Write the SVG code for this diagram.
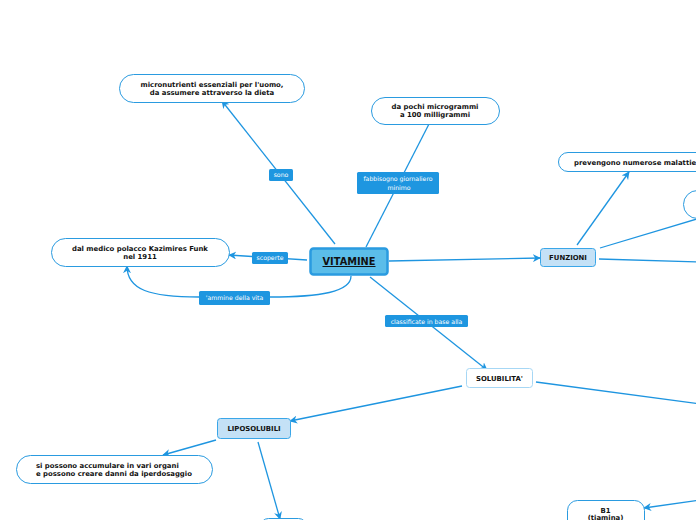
<svg xmlns="http://www.w3.org/2000/svg" width="696" height="520" viewBox="0 0 696 520">
<defs>
<marker id="ar" viewBox="0 0 10 10" refX="9" refY="5" markerWidth="8" markerHeight="8" markerUnits="userSpaceOnUse" orient="auto">
<path d="M0,0 L10,5 L0,10 L3,5 z" fill="#1e95e0"/>
</marker>
<style>
.c{fill:none;stroke:#1e95e0;stroke-width:1.3}
.n{fill:#fff;stroke:#2a9be0;stroke-width:1}
.t{font-family:"DejaVu Sans",Verdana,sans-serif;font-weight:bold;font-size:6.9px;fill:#111;text-anchor:middle}
.lb{fill:#1e96e0}
.lt{font-family:"DejaVu Sans",Verdana,sans-serif;font-size:6.2px;fill:#fff;text-anchor:middle}
.sub{fill:#c4e1f6;stroke:#3aa6e8;stroke-width:1}
</style>
</defs>
<rect width="696" height="520" fill="#fff"/>
<g id="connectors">
<line class="c" x1="335" y1="244" x2="222" y2="101" marker-end="url(#ar)"/>
<line class="c" x1="366" y1="247" x2="429" y2="124"/>
<line class="c" x1="307" y1="260" x2="229" y2="255" marker-end="url(#ar)"/>
<path class="c" d="M351,276 C351,292 320,297 270,297 L199,297 C150,297 127,290 127,266" marker-end="url(#ar)"/>
<line class="c" x1="389" y1="261" x2="540" y2="258" marker-end="url(#ar)"/>
<line class="c" x1="370" y1="277" x2="487" y2="370" marker-end="url(#ar)"/>
<line class="c" x1="577" y1="245" x2="629" y2="172" marker-end="url(#ar)"/>
<line class="c" x1="600" y1="248" x2="700" y2="218"/>
<line class="c" x1="599" y1="259" x2="700" y2="262"/>
<line class="c" x1="536" y1="382" x2="700" y2="404"/>
<line class="c" x1="462" y1="386" x2="290" y2="421" marker-end="url(#ar)"/>
<line class="c" x1="216" y1="440" x2="163" y2="455" marker-end="url(#ar)"/>
<line class="c" x1="258" y1="442" x2="280" y2="519" marker-end="url(#ar)"/>
<line class="c" x1="700" y1="500" x2="644" y2="508" marker-end="url(#ar)"/>
</g>
<g id="lbl-sono"><rect class="lb" x="269" y="169" width="24" height="12" rx="1.5"/><text class="lt" x="281" y="177">sono</text></g>
<g id="lbl-fabbisogno"><rect class="lb" x="357" y="172" width="82" height="22" rx="1.5"/><text class="lt" x="398" y="180.5">fabbisogno giornaliero</text><text class="lt" x="399" y="189.5">minimo</text></g>
<g id="lbl-scoperte"><rect class="lb" x="252" y="252" width="36" height="12" rx="1.5"/><text class="lt" x="270" y="260">scoperte</text></g>
<g id="lbl-ammine"><rect class="lb" x="199" y="291" width="71" height="14" rx="1.5"/><text class="lt" x="234.5" y="300">'ammine della vita</text></g>
<g id="lbl-classificate"><rect class="lb" x="385" y="315" width="83" height="12" rx="1.5"/><text class="lt" x="426.5" y="323.5">classificate in base alla</text></g>
<g id="vitamine">
<rect x="310.5" y="248.5" width="77" height="26" rx="3" fill="#5bbde9" stroke="#2a9be0" stroke-width="2.5"/>
<text x="349" y="265" font-family="'DejaVu Sans',Verdana,sans-serif" font-weight="bold" font-size="9.8px" fill="#111" text-anchor="middle" text-decoration="underline">VITAMINE</text>
</g>
<g id="micronutrienti">
<rect class="n" x="119.5" y="74.5" width="185" height="28" rx="14"/>
<text class="t" x="212" y="87">micronutrienti essenziali per l'uomo,</text>
<text class="t" x="212" y="95">da assumere attraverso la dieta</text>
</g>
<g id="dapochi">
<rect class="n" x="371.5" y="97.5" width="128" height="27" rx="13.5"/>
<text class="t" x="435" y="109">da pochi microgrammi</text>
<text class="t" x="435" y="117">a 100 milligrammi</text>
</g>
<g id="funk">
<rect class="n" x="51.5" y="238.5" width="178" height="28" rx="14"/>
<text class="t" x="140" y="251">dal medico polacco Kazimires Funk</text>
<text class="t" x="140" y="259">nel 1911</text>
</g>
<g id="funzioni">
<rect class="sub" x="540.5" y="248.5" width="55" height="18" rx="3"/>
<text class="t" x="568" y="260">FUNZIONI</text>
</g>
<g id="prevengono">
<rect class="n" x="558.5" y="152.5" width="150" height="19" rx="9.5"/>
<text class="t" x="574" y="164.5" style="text-anchor:start">prevengono numerose malattie</text>
</g>
<g id="funz2">
<rect class="n" x="683.5" y="190.5" width="40" height="28" rx="14"/>
</g>
<g id="solubilita">
<rect x="466.5" y="368.5" width="66" height="19" rx="3" fill="#fff" stroke="#a6d7f5" stroke-width="1"/>
<text class="t" x="499.5" y="380.5">SOLUBILITA'</text>
</g>
<g id="liposolubili">
<rect class="sub" x="217.5" y="418.5" width="73" height="20" rx="3" stroke="#2a9be0"/>
<text class="t" x="254" y="431">LIPOSOLUBILI</text>
</g>
<g id="accumulare">
<rect class="n" x="16.5" y="455.5" width="196" height="28" rx="14"/>
<text class="t" x="36" y="468" style="text-anchor:start">si possono accumulare in vari organi</text>
<text class="t" x="36" y="476" style="text-anchor:start">e possono creare danni da iperdosaggio</text>
</g>
<g id="lipo-child">
<rect class="n" x="260.5" y="518.5" width="46" height="20" rx="8"/>
</g>
<g id="b1">
<rect class="n" x="567.5" y="500.5" width="77" height="30" rx="10"/>
<text class="t" x="605.5" y="512.5">B1</text>
<text class="t" x="605.5" y="519.5">(tiamina)</text>
</g>
</svg>
